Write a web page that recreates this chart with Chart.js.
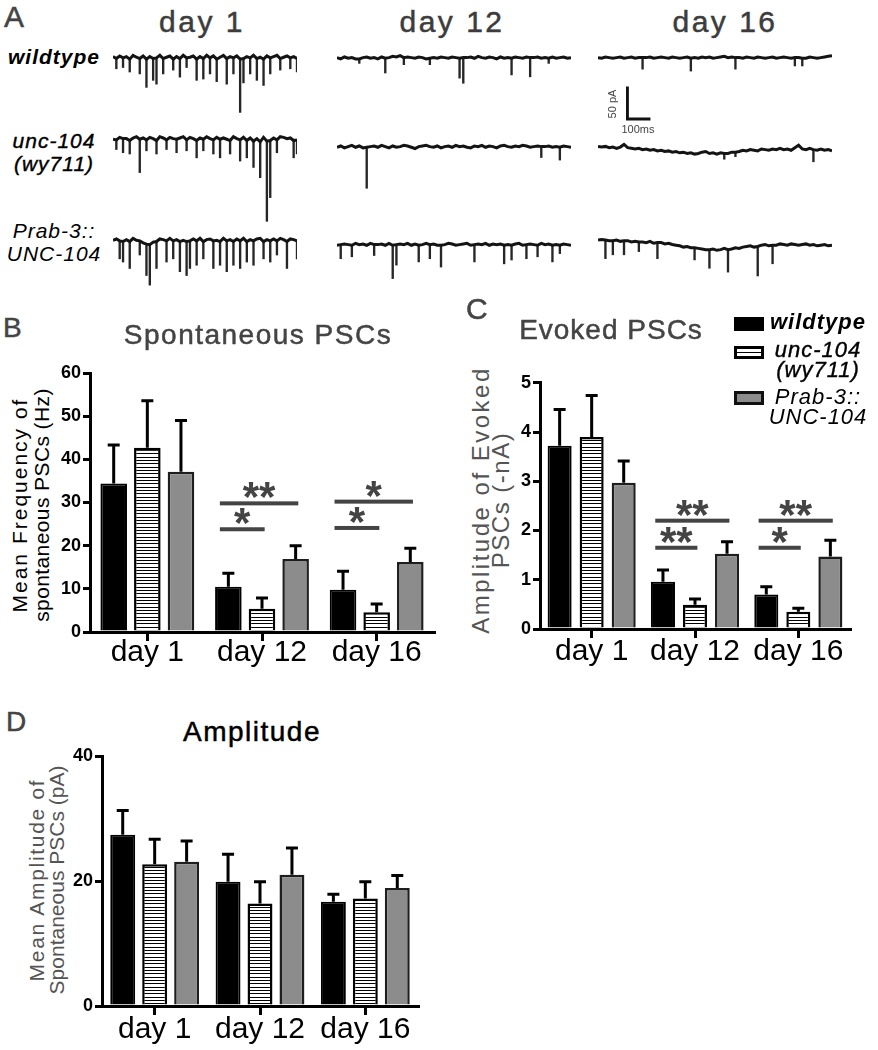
<!DOCTYPE html>
<html>
<head>
<meta charset="utf-8">
<script src="https://cdn.jsdelivr.net/npm/chart.js@4.4.1/dist/chart.umd.min.js"></script>
<style>
  body { margin: 0; background: #fff; }
  #fig { position: relative; width: 878px; height: 1050px; overflow: hidden;
         font-family: 'Liberation Sans', Arial, sans-serif; }
  #fig canvas { position: absolute; }
  .t { position: absolute; line-height: 1; white-space: nowrap; }
  .c { transform: translateX(-50%); text-align: center; }
  .heavy { -webkit-text-stroke: 0.5px currentColor; }
  .yt { position: absolute; white-space: nowrap; text-align: center;
        transform: translate(-50%, -50%) rotate(-90deg); }
  .lab { position: absolute; white-space: nowrap; text-align: center; transform: translateX(-50%);
         font-style: italic; color: #000; }
  .box { position: absolute; box-sizing: border-box; width: 30px; }
</style>
</head>
<body>
<div id="fig">
  <!-- panel A -->
  <div class="t heavy" style="left:4px; top:2px; font-size:30px; color:#444;">A</div>
  <div class="t c heavy" style="left:202px; top:7px; font-size:30px; color:#3c3c3c; letter-spacing:2.5px;">day 1</div>
  <div class="t c heavy" style="left:452px; top:7px; font-size:30px; color:#3c3c3c; letter-spacing:2.5px;">day 12</div>
  <div class="t c heavy" style="left:725px; top:7px; font-size:30px; color:#3c3c3c; letter-spacing:2.5px;">day 16</div>

  <div class="lab" style="left:54px; top:45px; font-size:21px; line-height:23px; font-weight:bold; letter-spacing:1px;">wildtype</div>
  <div class="lab" style="left:54px; top:129px; font-size:21px; line-height:23px; letter-spacing:1px; -webkit-text-stroke:0.4px #000;">unc-104<br>(wy711)</div>
  <div class="lab" style="left:54px; top:219px; font-size:21px; line-height:23px; letter-spacing:1px;">Prab-3::<br>UNC-104</div>

  <canvas id="wt1" width="184" height="100" style="left:113px; top:47px;"></canvas>
  <canvas id="wt12" width="234" height="100" style="left:337px; top:48px;"></canvas>
  <canvas id="wt16" width="234" height="100" style="left:598px; top:48px;"></canvas>
  <canvas id="unc1" width="184" height="100" style="left:113px; top:129px;"></canvas>
  <canvas id="unc12" width="234" height="100" style="left:337px; top:137px;"></canvas>
  <canvas id="unc16" width="234" height="100" style="left:598px; top:140px;"></canvas>
  <canvas id="prab1" width="184" height="100" style="left:113px; top:230px;"></canvas>
  <canvas id="prab12" width="234" height="100" style="left:337px; top:235px;"></canvas>
  <canvas id="prab16" width="234" height="100" style="left:598px; top:233px;"></canvas>

  <canvas id="scaleBar" width="30" height="37" style="left:626px; top:84px;"></canvas>
  <div class="yt" style="left:612px; top:104px; font-size:11px; color:#444;">50 pA</div>
  <div class="t c" style="left:638px; top:124px; font-size:11px; color:#444;">100ms</div>

  <!-- panel B -->
  <div class="t heavy" style="left:3px; top:314px; font-size:28px; color:#444;">B</div>
  <div class="t c heavy" style="left:258px; top:321px; font-size:28px; color:#444; letter-spacing:1.5px;">Spontaneous PSCs</div>
  <div class="yt" style="left:31px; top:505px; font-size:21px; line-height:22px; color:#000;">
    <div style="letter-spacing:2px;">Mean Frequency of</div>
    <div style="letter-spacing:0.4px;">spontaneous PSCs (Hz)</div>
  </div>
  <canvas id="chartB" width="440" height="320" style="left:0px; top:360px;"></canvas>

  <!-- panel C -->
  <div class="t heavy" style="left:466px; top:294px; font-size:30px; color:#444;">C</div>
  <div class="t c heavy" style="left:611px; top:316px; font-size:28px; color:#444; letter-spacing:1px;">Evoked PSCs</div>
  <div class="yt" style="left:491px; top:500px; font-size:24px; line-height:20px; color:#555;">
    <div style="letter-spacing:2.5px;">Amplitude of Evoked</div>
    <div style="letter-spacing:1.5px;">PSCs (-nA)</div>
  </div>
  <canvas id="chartC" width="400" height="307" style="left:455px; top:370px;"></canvas>

  <div class="box" style="left:734px; top:317px; height:14px; background:#000;"></div>
  <div class="box" style="left:734px; top:346px; height:13px; border:3px solid #000;
       background:linear-gradient(#fff 0 3px, #000 3px 4px, #fff 4px);"></div>
  <div class="box" style="left:734px; top:391px; height:14px; border:3px solid #111; background:#8c8c8c;"></div>
  <div class="lab" style="left:818px; top:311px; font-size:22px; line-height:22px; font-weight:bold; letter-spacing:1px;">wildtype</div>
  <div class="lab" style="left:818px; top:340px; font-size:22px; line-height:20px; letter-spacing:1px; -webkit-text-stroke:0.4px #000;">unc-104<br>(wy711)</div>
  <div class="lab" style="left:818px; top:387px; font-size:22px; line-height:20px; letter-spacing:1px;">Prab-3::<br>UNC-104</div>

  <!-- panel D -->
  <div class="t heavy" style="left:6px; top:708px; font-size:28px; color:#444;">D</div>
  <div class="t c heavy" style="left:252px; top:718px; font-size:28px; color:#000; letter-spacing:1.5px;">Amplitude</div>
  <div class="yt" style="left:47px; top:880px; font-size:21px; line-height:20px; color:#555;">
    <div style="letter-spacing:1.7px;">Mean Amplitude of</div>
    <div>Spontaneous PSCs (pA)</div>
  </div>
  <canvas id="chartD" width="424" height="316" style="left:0px; top:740px;"></canvas>
</div>

<script>
// ---------- data ----------
const days = ['day 1', 'day 12', 'day 16'];

// B: mean frequency of spontaneous PSCs (Hz) and SEM
const freqWt = [34.4, 10.5, 9.8];
const freqWtSem = [8.9, 3.1, 4.3];
const freqUnc = [42.7, 5.4, 4.6];
const freqUncSem = [10.9, 2.5, 1.9];
const freqPrab = [37.1, 16.9, 16.2];
const freqPrabSem = [11.9, 3.1, 3.2];
const sigB = [
  { day: 1, from: 0, to: 2, y: 29.8, label: '**' },
  { day: 1, from: 0, to: 1, y: 23.8, label: '*' },
  { day: 2, from: 0, to: 2, y: 30.2, label: '*' },
  { day: 2, from: 0, to: 1, y: 24.1, label: '*' }
];

// C: amplitude of evoked PSCs (-nA) and SEM
const evokedWt = [3.72, 0.96, 0.70];
const evokedWtSem = [0.74, 0.24, 0.16];
const evokedUnc = [3.90, 0.49, 0.35];
const evokedUncSem = [0.84, 0.12, 0.07];
const evokedPrab = [2.97, 1.53, 1.47];
const evokedPrabSem = [0.44, 0.24, 0.33];
const sigC = [
  { day: 1, from: 0, to: 2, y: 2.20, label: '**' },
  { day: 1, from: 0, to: 1, y: 1.65, label: '**' },
  { day: 2, from: 0, to: 2, y: 2.20, label: '**' },
  { day: 2, from: 0, to: 1, y: 1.65, label: '*' }
];

// D: mean amplitude of spontaneous PSCs (pA) and SEM
const ampWt = [27.4, 19.9, 16.7];
const ampWtSem = [3.9, 4.4, 1.2];
const ampUnc = [22.7, 16.4, 17.2];
const ampUncSem = [4.0, 3.5, 2.7];
const ampPrab = [23.1, 21.0, 18.9];
const ampPrabSem = [3.3, 4.3, 2.0];

// A: example traces. baseline current per time bin (pA) and PSC events [bin, peak pA]
const baseWt1 = [1, -2, 2, -1, 1, -3, 3, 0, -2, 2, -3, 1, -2, -1, 3, -2, 0, 2, -3, 1,
  -2, 3, -1, 0, 2, -3, 1, -2, 3, -1, 2, -3, 0, 3, -2, 1, -1, 2, -3, -2,
  1, -1, 3, -2, 0, -3, 2, -1, 1, 3, -2, 0, 2, -1, 1, -2];
const eventsWt1 = [[1, -18], [3, -16], [5, -23], [8, -26], [10, -47], [12, -36], [13, -42], [15, -26],
  [18, -20], [20, -31], [22, -16], [25, -36], [27, -34], [29, -26], [31, -38], [34, -42], [36, -26],
  [38, -86], [39, -40], [41, -26], [43, -36], [45, -44], [47, -26], [50, -20], [53, -18], [55, -23]];
const baseUnc1 = [0, -1, 3, 1, 1, -2, 2, 4, 0, 2, -1, 3, 1, -2, 4, 2, -1, 3, 1, 0,
  2, 4, -1, 3, 1, -2, 2, 0, 4, 1, -1, 3, 0, 2, 0, -2, 4, 1, -1, 3,
  -2, 2, -3, 1, -4, 3, -3, -2, 2, -1, 4, 3, 1, 2, -2, -1];
const eventsUnc1 = [[1, -16], [3, -21], [5, -23], [8, -52], [10, -18], [13, -23], [16, -16], [19, -21],
  [22, -18], [25, -29], [27, -18], [30, -23], [32, -29], [35, -23], [38, -34], [40, -29], [42, -44],
  [44, -60], [46, -128], [47, -91], [49, -21], [54, -29], [55, -23]];
const basePrab1 = [0, 2, -1, -2, 1, -2, 3, 0, -1, -4, -6, -7, -3, -2, 2, 1, -1, 3, -1, 1,
  -2, 0, -2, -1, 2, -1, 3, -2, 1, 2, -1, 0, -2, 3, -1, 1, -2, 2, -1, 3,
  -2, 1, -1, 2, 3, -2, 1, -1, 2, -1, 3, 1, -2, 2, 1, -1];
const eventsPrab1 = [[2, -29], [3, -34], [5, -44], [8, -23], [10, -55], [11, -70], [13, -44], [16, -34],
  [18, -29], [20, -49], [22, -55], [23, -44], [25, -39], [27, -29], [30, -44], [32, -39], [34, -49],
  [36, -39], [38, -44], [40, -34], [42, -39], [45, -29], [47, -34], [49, -23], [52, -44], [55, -29]];

const baseWt12 = [1, -1, 2, 0, 1, -1, -1, 1, 2, 0, 1, -1, 2, 0, 1, 3, 2, 4, 1, 2,
  1, 0, 2, 1, -1, 0, 1, 0, 2, 1, 0, 2, 1, 0, 1, 1, 2, 0, 3, 1,
  0, 2, 1, -1, 2, 0, 1, 0, 2, 1, 0, 2, 1, 1, 2, 0, 1, 0, 2, 0,
  1, 2, 0, 1];
const eventsWt12 = [[6, -8], [13, -23], [18, -10], [25, -10], [33, -31], [34, -39], [47, -26], [52, -29], [57, -8]];
const baseUnc12 = [0, 2, -1, 1, 3, 0, 2, -1, 0, 1, 2, 0, 3, 1, -1, 2, 0, 1, 3, 2,
  0, -2, 1, 2, 3, 1, 0, 2, -1, 1, 2, 0, 3, 1, 2, 0, -1, 2, 1, 3,
  0, 2, 1, -1, 2, 3, 1, 0, 2, 1, 3, 2, 0, 1, 2, 1, 1, 2, 0, 1,
  0, 2, 1, 0];
const eventsUnc12 = [[8, -64], [55, -16], [60, -20]];
const basePrab12 = [0, 1, 2, 1, 0, 3, 1, 2, 0, 3, 1, 1, 2, 0, 3, 0, 1, 2, 1, 3,
  0, 2, 0, 1, 3, 1, 2, 0, 0, 1, 3, 2, 0, 1, 2, 3, 0, 1, 2, 1,
  3, 0, 2, 1, 2, 0, 1, 0, 2, 3, 0, 1, 2, 1, 0, 3, 1, 2, 0, 1,
  0, 2, 1, 0];
const eventsPrab12 = [[1, -21], [4, -18], [10, -16], [15, -52], [16, -31], [22, -26], [25, -21], [28, -34],
  [37, -26], [45, -29], [47, -23], [51, -21], [54, -18], [58, -26], [60, -13]];

const baseWt16 = [1, 0, 2, 1, 0, 1, 2, 0, 1, 2, 0, 1, 1, 1, 2, 0, 1, 2, 1, 0,
  2, 1, 0, 1, 2, 0, 1, 0, 2, 1, 2, 0, 1, 2, 3, 1, 2, 1, 1, 0,
  2, 1, 0, 2, 1, 0, 1, 2, 0, 1, 2, 1, 0, 1, 1, 0, 0, 2, 1, 0,
  1, 2, 3, 4];
const eventsWt16 = [[12, -17], [25, -20], [37, -17], [53, -12], [55, -12]];
const baseUnc16 = [6, 5, 6, 4, 5, 3, 5, 9, 4, 3, 2, 3, 1, 2, 0, 1, -1, 0, -2, -1,
  -3, -2, -4, -3, -5, -4, -6, -5, -3, -2, -5, -4, -6, -4, -5, -5, -3, -3, -2, 0,
  -1, 1, 0, -1, 2, 1, 0, 2, 1, 3, 1, 2, 0, 4, 8, 2, 1, 3, 1, 0,
  2, 0, 1, -1];
const eventsUnc16 = [[34, -14], [37, -10], [58, -18]];
const basePrab16 = [5, 6, 5, 4, 4, 5, 3, 4, 4, 2, 3, 2, 2, 1, 3, 0, 1, 1, -1, 0,
  -2, -3, -4, -6, -5, -7, -7, -8, -9, -10, -10, -9, -11, -10, -8, -10, -9, -7, -8, -6,
  -5, -4, -6, -5, -3, -2, -4, -3, -3, -1, -2, -3, -1, -2, -3, -2, -1, -3, -2, -4,
  -3, -2, -4, -3];
const eventsPrab16 = [[2, -24], [4, -18], [7, -18], [11, -13], [16, -24], [26, -26], [30, -39], [35, -45],
  [43, -51], [47, -32]];

const scaleBarPA = 50;
const scaleBarMs = 100;

// ---------- drawing ----------
Chart.defaults.font.family = "'Liberation Sans', Arial, sans-serif";
Chart.defaults.color = '#000';

// traces share one current scale (pA): noisy baseline as a line, PSCs as thin floating bars
function traceChart(id, base, events) {
  const peaks = base.map(() => null);
  events.forEach(([i, amp]) => { peaks[i] = [base[i], amp]; });
  new Chart(document.getElementById(id), {
    type: 'bar',
    data: {
      labels: base.map((v, i) => i),
      datasets: [
        { type: 'line', data: base, borderColor: '#141414', borderWidth: 3, pointRadius: 0, tension: 0 },
        { type: 'bar', data: peaks, backgroundColor: '#262626', barThickness: 1.7, borderWidth: 0 }
      ]
    },
    options: {
      responsive: false, animation: false, events: [],
      layout: { padding: 0 },
      plugins: { legend: { display: false }, tooltip: { enabled: false } },
      scales: { x: { display: false, offset: false }, y: { display: false, min: -140, max: 16 } }
    }
  });
}
traceChart('wt1', baseWt1, eventsWt1);
traceChart('wt12', baseWt12, eventsWt12);
traceChart('wt16', baseWt16, eventsWt16);
traceChart('unc1', baseUnc1, eventsUnc1);
traceChart('unc12', baseUnc12, eventsUnc12);
traceChart('unc16', baseUnc16, eventsUnc16);
traceChart('prab1', basePrab1, eventsPrab1);
traceChart('prab12', basePrab12, eventsPrab12);
traceChart('prab16', basePrab16, eventsPrab16);

// scale bar, same pA scale as the traces
new Chart(document.getElementById('scaleBar'), {
  type: 'line',
  data: {
    datasets: [{
      data: [{ x: 0, y: scaleBarPA }, { x: 0, y: 0 }, { x: scaleBarMs, y: 0 }],
      borderColor: '#111', borderWidth: 3, pointRadius: 0, borderJoinStyle: 'miter', borderCapStyle: 'butt'
    }]
  },
  options: {
    responsive: false, animation: false, events: [],
    layout: { padding: 0 },
    plugins: { legend: { display: false }, tooltip: { enabled: false } },
    scales: {
      x: { type: 'linear', display: false, min: -6, max: 124 },
      y: { display: false, min: -3, max: 54 }
    }
  }
});

// horizontal stripes for the unc-104 bars
function stripePattern() {
  const c = document.createElement('canvas');
  c.width = 8; c.height = 10;
  const g = c.getContext('2d');
  g.fillStyle = '#fff'; g.fillRect(0, 0, 8, 10);
  g.fillStyle = '#000';
  g.fillRect(0, 0, 8, 1); g.fillRect(0, 3, 8, 1); g.fillRect(0, 7, 8, 1);
  return g.createPattern(c, 'repeat');
}

const errorBars = {
  id: 'errorBars',
  afterDatasetsDraw(chart) {
    const { ctx, scales: { y } } = chart;
    ctx.save();
    ctx.strokeStyle = '#000';
    ctx.lineWidth = 3;
    chart.data.datasets.forEach((ds, i) => {
      chart.getDatasetMeta(i).data.forEach((bar, j) => {
        const top = y.getPixelForValue(ds.data[j] + ds.sem[j]);
        ctx.beginPath();
        ctx.moveTo(bar.x, bar.y);
        ctx.lineTo(bar.x, top);
        ctx.moveTo(bar.x - 6, top);
        ctx.lineTo(bar.x + 6, top);
        ctx.stroke();
      });
    });
    ctx.restore();
  }
};

function sigPlugin(marks) {
  return {
    id: 'sigBars',
    afterDatasetsDraw(chart) {
      const { ctx, scales: { y } } = chart;
      ctx.save();
      marks.forEach(m => {
        const a = chart.getDatasetMeta(m.from).data[m.day];
        const b = chart.getDatasetMeta(m.to).data[m.day];
        const x0 = a.x - a.width * 0.32;
        const x1 = b.x + b.width * 0.1;
        const py = y.getPixelForValue(m.y);
        ctx.fillStyle = '#444';
        ctx.fillRect(x0, py - 2, x1 - x0, 4);
        ctx.font = "bold 42px 'Liberation Sans', Arial, sans-serif";
        ctx.textAlign = 'center';
        ctx.textBaseline = 'alphabetic';
        const mt = ctx.measureText(m.label);
        ctx.fillText(m.label, (x0 + x1) / 2, py - 5 - mt.actualBoundingBoxDescent);
      });
      ctx.restore();
    }
  };
}

function barChart(id, wt, wtSem, unc, uncSem, prab, prabSem, marks, o) {
  new Chart(document.getElementById(id), {
    type: 'bar',
    data: {
      labels: days,
      datasets: [
        { label: 'wildtype', data: wt, sem: wtSem, backgroundColor: '#000', borderColor: '#000', borderWidth: 2 },
        { label: 'unc-104(wy711)', data: unc, sem: uncSem, backgroundColor: stripePattern(), borderColor: '#000', borderWidth: 2.5 },
        { label: 'Prab-3::UNC-104', data: prab, sem: prabSem, backgroundColor: '#8c8c8c', borderColor: '#1e1e1e', borderWidth: 2.5 }
      ]
    },
    options: {
      responsive: false, animation: false, events: [],
      layout: { padding: { top: o.padTop, right: o.padRight, left: 0, bottom: 0 } },
      categoryPercentage: o.cat,
      barPercentage: o.bar,
      plugins: { legend: { display: false }, tooltip: { enabled: false } },
      scales: {
        x: {
          ticks: { color: '#000', font: { size: 30, lineHeight: 1 }, padding: o.xPad,
                   autoSkip: false, maxRotation: 0, minRotation: 0 },
          grid: { offset: false, drawOnChartArea: false, tickLength: 9, color: '#000', lineWidth: 3 },
          border: { color: '#000', width: 3 },
          afterFit(s) { s.height = o.xHeight; }
        },
        y: {
          min: 0, max: o.max,
          ticks: { stepSize: o.step, color: '#000', font: { size: 18, weight: 'bold' }, padding: 2 },
          grid: { drawOnChartArea: false, tickLength: 7, color: '#000', lineWidth: 3 },
          border: { color: '#000', width: 3 },
          afterFit(s) { s.width = o.yWidth; }
        }
      }
    },
    plugins: [errorBars, sigPlugin(marks)]
  });
}

barChart('chartB', freqWt, freqWtSem, freqUnc, freqUncSem, freqPrab, freqPrabSem, sigB,
  { padTop: 13, padRight: 6, cat: 0.88, bar: 0.79, max: 60, step: 10, yWidth: 90, xHeight: 48, xPad: -3 });
barChart('chartC', evokedWt, evokedWtSem, evokedUnc, evokedUncSem, evokedPrab, evokedPrabSem, sigC,
  { padTop: 12, padRight: 5, cat: 0.93, bar: 0.75, max: 5, step: 1, yWidth: 85, xHeight: 48, xPad: -1 });
barChart('chartD', ampWt, ampWtSem, ampUnc, ampUncSem, ampPrab, ampPrabSem, [],
  { padTop: 16, padRight: 6, cat: 0.91, bar: 0.78, max: 40, step: 20, yWidth: 102, xHeight: 50, xPad: 0 });
</script>
</body>
</html>
